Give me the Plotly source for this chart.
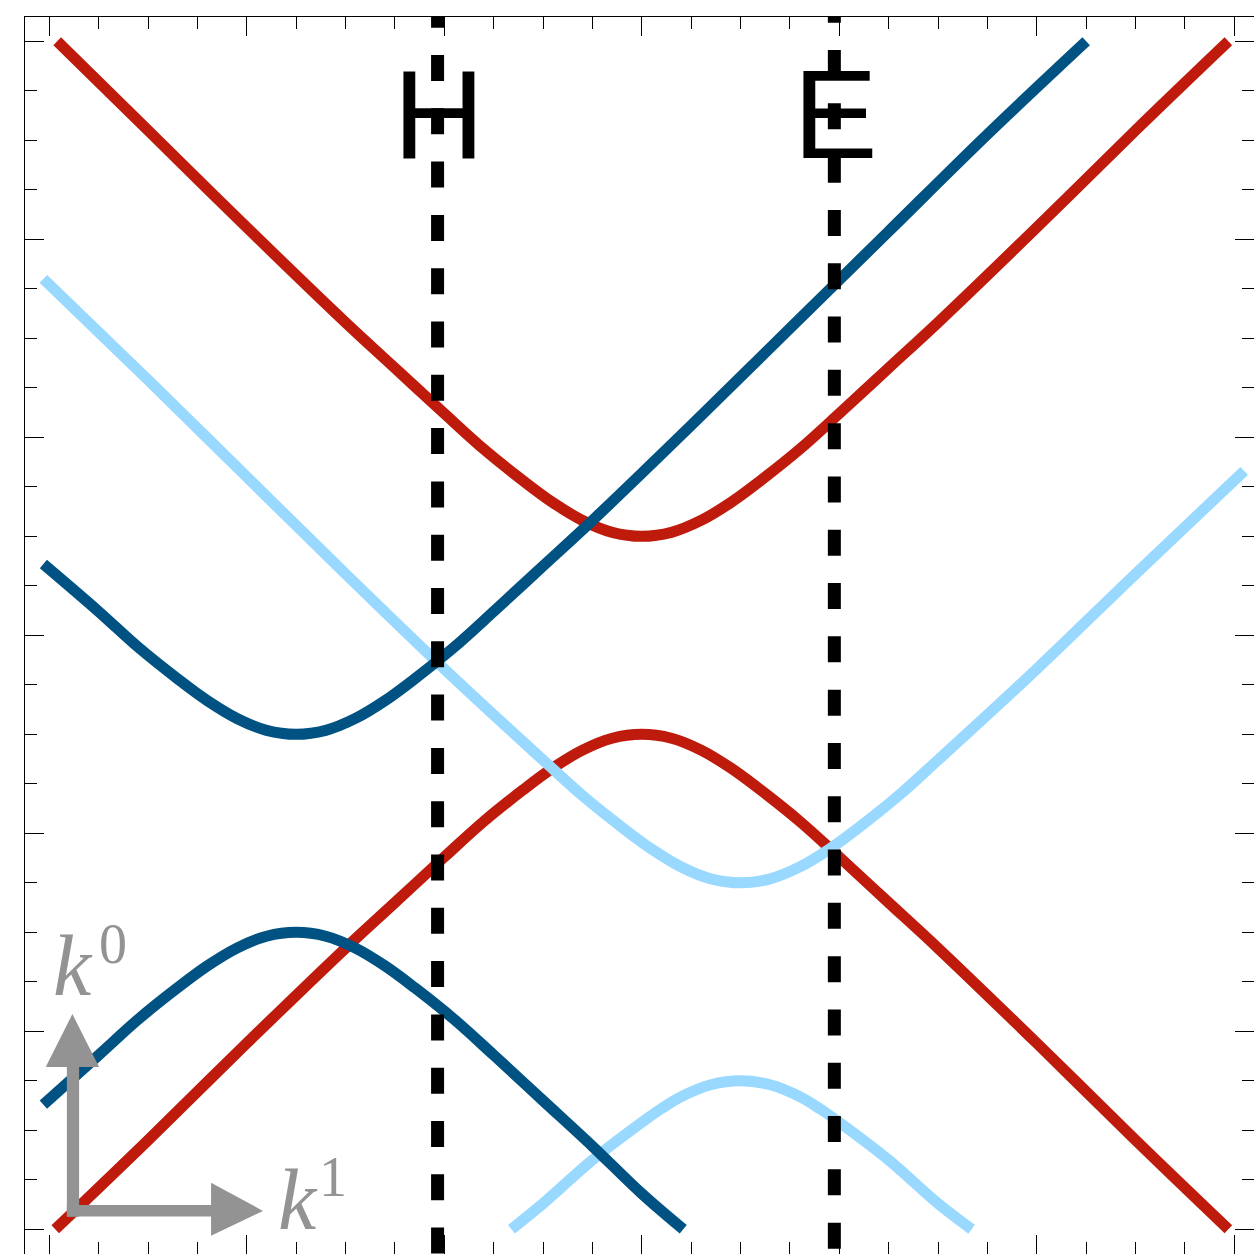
import plotly.graph_objects as go

# Dispersion branches (k1, k0) for the three fields
red_up_x = [-2.96, -2.5, -2.0, -1.5, -1.25, -1.0, -0.8, -0.6, -0.45, -0.3, -0.15, 0.0,
            0.15, 0.3, 0.45, 0.6, 0.8, 1.0, 1.25, 1.5, 2.0, 2.5, 2.97]
red_up_y = [3.00, 2.55, 2.06, 1.58, 1.35, 1.12, 0.94, 0.78, 0.67, 0.58, 0.52, 0.50,
            0.52, 0.58, 0.67, 0.78, 0.94, 1.12, 1.35, 1.58, 2.06, 2.55, 3.00]
red_lo_x = [-2.97, -2.5, -2.0, -1.5, -1.25, -1.0, -0.8, -0.6, -0.45, -0.3, -0.15, 0.0,
            0.15, 0.3, 0.45, 0.6, 0.8, 1.0, 1.25, 1.5, 2.0, 2.5, 2.97]
red_lo_y = [-3.00, -2.55, -2.06, -1.58, -1.35, -1.12, -0.94, -0.78, -0.67, -0.58, -0.52, -0.50,
            -0.52, -0.58, -0.67, -0.78, -0.94, -1.12, -1.35, -1.58, -2.06, -2.55, -3.00]

dark_up_x = [-3.03, -2.75, -2.55, -2.35, -2.2, -2.05, -1.9, -1.75, -1.6, -1.45, -1.3, -1.15,
             -0.95, -0.75, -0.5, -0.25, 0.25, 0.75, 1.25, 1.75, 2.25]
dark_up_y = [0.36, 0.12, -0.06, -0.22, -0.33, -0.42, -0.48, -0.50, -0.48, -0.42, -0.33, -0.22,
             -0.06, 0.12, 0.35, 0.58, 1.06, 1.55, 2.04, 2.53, 3.00]
dark_lo_x = [-3.03, -2.75, -2.55, -2.35, -2.2, -2.05, -1.9, -1.75, -1.6, -1.45, -1.3, -1.15,
             -0.95, -0.75, -0.5, -0.25, 0.0, 0.21]
dark_lo_y = [-2.37, -2.12, -1.94, -1.78, -1.67, -1.58, -1.52, -1.50, -1.52, -1.58, -1.67, -1.78,
             -1.94, -2.12, -2.35, -2.58, -2.82, -3.00]

light_up_x = [-3.03, -2.5, -2.0, -1.5, -1.0, -0.5, -0.3, -0.1, 0.05, 0.2, 0.35, 0.5,
              0.65, 0.8, 0.95, 1.1, 1.3, 1.5, 2.0, 2.5, 3.05]
light_up_y = [1.80, 1.29, 0.80, 0.31, -0.17, -0.63, -0.81, -0.97, -1.08, -1.17, -1.23, -1.25,
              -1.23, -1.17, -1.08, -0.97, -0.81, -0.63, -0.17, 0.31, 0.83]
light_lo_x = [-0.66, -0.5, -0.25, 0.0, 0.1, 0.2, 0.35, 0.5, 0.65, 0.8, 0.9, 1.0, 1.25, 1.5, 1.67]
light_lo_y = [-3.00, -2.87, -2.65, -2.46, -2.39, -2.33, -2.27, -2.25, -2.27, -2.33, -2.39, -2.46,
              -2.65, -2.87, -3.00]

# Vertical cuts and their labels
cut_x = [-1.034, 0.975]
cut_top = [3.20, 3.225]
cut_labels = ["H", "E"]

RED = "#be1b0d"
DARK = "#005282"
LIGHT = "#99d9ff"
GRAY = "#939393"
LW = 11

fig = go.Figure()

def branch(x, y, color):
    fig.add_trace(go.Scatter(x=x, y=y, mode="lines",
                             line=dict(color=color, width=LW, shape="spline", smoothing=1.0),
                             hoverinfo="skip", showlegend=False))

branch(red_up_x, red_up_y, RED)
branch(red_lo_x, red_lo_y, RED)
branch(light_up_x, light_up_y, LIGHT)
branch(light_lo_x, light_lo_y, LIGHT)
branch(dark_up_x, dark_up_y, DARK)
branch(dark_lo_x, dark_lo_y, DARK)

for cx, ct in zip(cut_x, cut_top):
    fig.add_trace(go.Scatter(x=[cx, cx], y=[ct, -3.3], mode="lines",
                             line=dict(color="black", width=13, dash="26px,27.3px"),
                             hoverinfo="skip", showlegend=False))

# Coordinate arrows (k1 to the right, k0 upward)
shapes = [
    dict(type="rect", x0=-2.911, x1=-2.849, y0=-2.937, y1=-2.175, fillcolor=GRAY, line_width=0),
    dict(type="path", path="M -3.018 -2.180 L -2.748 -2.180 L -2.883 -1.913 Z", fillcolor=GRAY, line_width=0),
    dict(type="rect", x0=-2.911, x1=-2.176, y0=-2.936, y1=-2.877, fillcolor=GRAY, line_width=0),
    dict(type="path", path="M -2.181 -2.765 L -2.181 -3.033 L -1.918 -2.907 Z", fillcolor=GRAY, line_width=0),
]
for s in shapes:
    s.update(xref="x", yref="y", layer="above")

serif_it = dict(family="Liberation Serif", size=86, color=GRAY, style="italic")
serif_up = dict(family="Liberation Serif", size=56, color=GRAY)
annotations = [
    dict(x=-2.991, y=-1.921, text="k", font=serif_it, xanchor="left", yanchor="bottom"),
    dict(x=-2.758, y=-1.726, text="0", font=serif_up, xanchor="left", yanchor="bottom"),
    dict(x=-1.852, y=-3.103, text="k", font=serif_it, xanchor="left", yanchor="bottom"),
    dict(x=-1.644, y=-2.902, text="1", font=serif_up, xanchor="left", yanchor="bottom"),
]
for cx, lab in zip(cut_x, cut_labels):
    annotations.append(dict(x=cx + 0.007, y=2.265, text=lab, xanchor="center", yanchor="bottom",
                            font=dict(family="Liberation Sans", size=127, color="black")))
for a in annotations:
    a.update(xref="x", yref="y", showarrow=False)

axis_common = dict(
    showgrid=False, zeroline=False, showticklabels=False,
    showline=True, linecolor="black", linewidth=1.3, mirror="ticks",
    ticks="inside", ticklen=19, tickwidth=1, tickcolor="black", dtick=1, tick0=0,
    minor=dict(ticks="inside", ticklen=12, tickwidth=1, tickcolor="black", dtick=0.25, tick0=0),
)

fig.update_layout(
    width=1254, height=1254,
    margin=dict(l=25, r=0, t=17, b=0),
    paper_bgcolor="white", plot_bgcolor="white",
    xaxis=dict(range=[-3.123, 3.0998], **axis_common),
    yaxis=dict(range=[-3.1248, 3.1227], **axis_common),
    shapes=shapes, annotations=annotations,
)

fig.write_html("out.html", config={"displayModeBar": False})
